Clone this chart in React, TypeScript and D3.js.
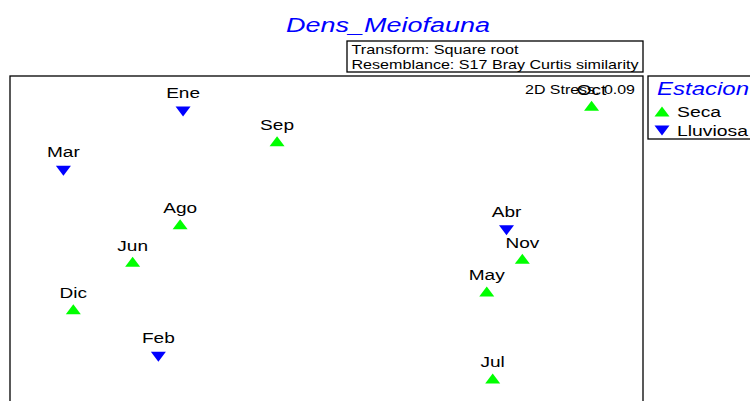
import * as d3 from "d3";

const W = 750;
const H = 401;

// nMDS ordination (one sample per month)
const months = ["Ene", "Feb", "Mar", "Abr", "May", "Jun", "Jul", "Ago", "Sep", "Oct", "Nov", "Dic"];
const estacion = ["Lluviosa", "Lluviosa", "Lluviosa", "Lluviosa", "Seca", "Seca", "Seca", "Seca", "Seca", "Seca", "Seca", "Seca"];
const mdsX = [-0.725, -0.85, -1.33, 0.91, 0.81, -0.98, 0.84, -0.74, -0.25, 1.34, 0.99, -1.28];
const mdsY = [1.02, -0.22, 0.72, 0.42, 0.11, 0.26, -0.33, 0.45, 0.87, 1.05, 0.275, 0.02];

const groups = ["Seca", "Lluviosa"];
const groupColors = ["#00ff00", "#0000ff"];

const TITLE = "Dens_Meiofauna";
const INFO = ["Transform: Square root", "Resemblance: S17 Bray Curtis similarity"];
const STRESS = "2D Stress: 0.09";
const FONT = "'Liberation Sans', Arial, sans-serif";

const FRAME = { left: 10, top: 76, right: 643, bottom: 412 };

// triangle marker, pointing up for Seca, down for Lluviosa
const tri = (up: boolean) => {
  const w = 7.5, h = 5;
  return up
    ? `M0,${-h}L${w},${h}L${-w},${h}Z`
    : `M${-w},${-h}L${w},${-h}L0,${h}Z`;
};

export default function App() {
  const x = d3.scaleLinear().domain([-1.6, 1.6]).range([FRAME.left, FRAME.right]);
  const y = d3.scaleLinear().domain([-0.5, 1.2]).range([FRAME.bottom, FRAME.top]);
  const color = d3.scaleOrdinal<string, string>().domain(groups).range(groupColors);

  const points = months.map((m, i) => ({ m, g: estacion[i], cx: x(mdsX[i]), cy: y(mdsY[i]) }));

  return (
    <svg width={W} height={H} style={{ position: "absolute", left: 0, top: 0, background: "#fff" }} fontFamily={FONT}>
      <text x={388} y={31.5} textAnchor="middle" fontSize={20} fontStyle="italic" fill="#0000ff"
        textLength={204} lengthAdjust="spacingAndGlyphs">{TITLE}</text>

      {/* info box */}
      <rect x={347} y={41} width={296} height={31} fill="none" stroke="#000" strokeWidth={1.3} />
      <text x={351.5} y={53.5} fontSize={13} textLength={167} lengthAdjust="spacingAndGlyphs">{INFO[0]}</text>
      <text x={351.5} y={68.5} fontSize={13} textLength={287} lengthAdjust="spacingAndGlyphs">{INFO[1]}</text>

      {/* plot frame */}
      <rect x={FRAME.left} y={FRAME.top} width={FRAME.right - FRAME.left} height={FRAME.bottom - FRAME.top}
        fill="none" stroke="#000" strokeWidth={1.3} />
      <text x={525} y={94.3} fontSize={13} textLength={110} lengthAdjust="spacingAndGlyphs">{STRESS}</text>

      {points.map((p) => {
        const up = p.g === "Seca";
        return (
          <g key={p.m}>
            <path d={tri(up)} transform={`translate(${p.cx},${p.cy})`} fill={color(p.g)} />
            <text transform={`translate(${p.cx},${p.cy - (up ? 11 : 13.5)}) scale(1.27,1)`}
              textAnchor="middle" fontSize={15} fill="#000">{p.m}</text>
          </g>
        );
      })}

      {/* legend */}
      <rect x={648} y={76} width={120} height={63} fill="none" stroke="#000" strokeWidth={1.3} />
      <text x={657} y={95} fontSize={18} fontStyle="italic" fill="#0000ff"
        textLength={92} lengthAdjust="spacingAndGlyphs">Estacion</text>
      {groups.map((g, i) => (
        <g key={g}>
          <path d={tri(i === 0)} transform={`translate(662,${111.5 + i * 19})`} fill={color(g)} />
          <text transform={`translate(677,${116.7 + i * 19}) scale(1.29,1)`} fontSize={15} fill="#000">{g}</text>
        </g>
      ))}
    </svg>
  );
}
